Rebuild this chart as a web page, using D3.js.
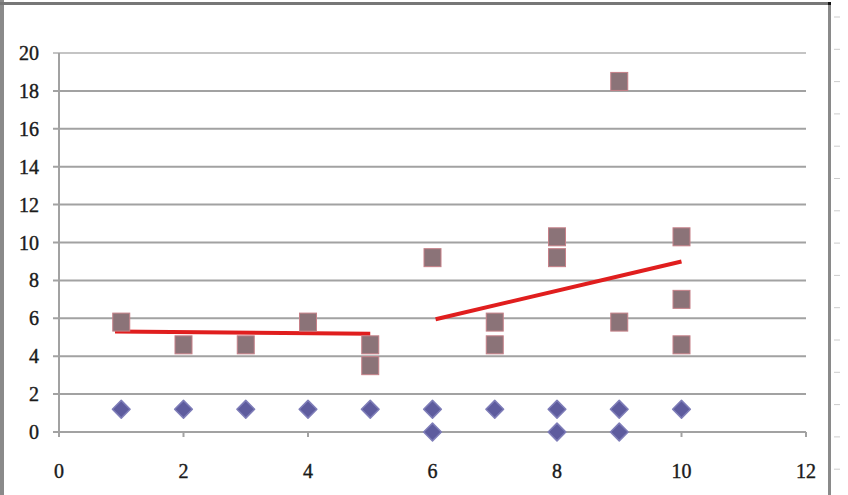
<!DOCTYPE html>
<html>
<head>
<meta charset="utf-8">
<script src="https://cdn.jsdelivr.net/npm/d3@7"></script>
<style>
  body { margin: 0; background: #fff; }
  svg text { font-family: "Liberation Serif", serif; fill: #1a1a1a; stroke: #1a1a1a; stroke-width: 0.4; }
</style>
</head>
<body>
<div id="myChart"></div>
<script>
let width = 848
let height = 495

// series 1 (diamonds)
const diamondX = [1, 2, 3, 4, 5, 6, 7, 8, 9, 10, 6, 8, 9]
const diamondY = [1.2, 1.2, 1.2, 1.2, 1.2, 1.2, 1.2, 1.2, 1.2, 1.2, 0, 0, 0]

// series 2 (squares)
const squareX = [1, 2, 3, 4, 5, 5, 6, 7, 7, 8, 8, 9, 9, 10, 10, 10]
const squareY = [5.8, 4.6, 4.6, 5.8, 4.6, 3.5, 9.2, 5.8, 4.6, 10.3, 9.2, 18.5, 5.8, 10.3, 7.0, 4.6]

// trend lines (start / end)
const trend1X = [0.9, 5]
const trend1Y = [5.3, 5.18]
const trend2X = [6.05, 10]
const trend2Y = [5.95, 9.0]

const xTicks = [0, 2, 4, 6, 8, 10, 12]
const yTicks = [0, 2, 4, 6, 8, 10, 12, 14, 16, 18, 20]

let svg = d3.select("#myChart")
  .append("svg")
  .attr("width", width)
  .attr("height", height)

let x = d3.scaleLinear().domain([0, 12]).range([59, 806])
let y = d3.scaleLinear().domain([0, 20]).range([432, 53])

// outer frame (screenshot border)
svg.append("rect").attr("x", 0).attr("y", 0).attr("width", 4).attr("height", height).attr("fill", "#8a8a8a")
svg.append("rect").attr("x", 0).attr("y", 2).attr("width", 831).attr("height", 3).attr("fill", "#777")
svg.append("rect").attr("x", 828).attr("y", 2).attr("width", 3).attr("height", height).attr("fill", "#8a8a8a")
svg.append("rect").attr("x", 828).attr("y", 2).attr("width", 3).attr("height", 3).attr("fill", "#111")

// faint row markers at the right edge
svg.append("g")
  .selectAll("line")
  .data(d3.range(17, height, 32.3))
  .enter().append("line")
  .attr("x1", 834).attr("x2", 840)
  .attr("y1", d => d).attr("y2", d => d)
  .attr("stroke", "#ccc")
  .attr("stroke-width", 1)

// gridlines
svg.append("g")
  .selectAll("line")
  .data(yTicks)
  .enter().append("line")
  .attr("x1", 53)
  .attr("x2", 806)
  .attr("y1", d => y(d))
  .attr("y2", d => y(d))
  .attr("stroke", d => d == 20 ? "#c4c4c4" : "#a2a2a2")
  .attr("stroke-width", 2)

// y axis line
svg.append("line")
  .attr("x1", x(0)).attr("x2", x(0))
  .attr("y1", y(20)).attr("y2", y(0) + 5)
  .attr("stroke", "#a2a2a2")
  .attr("stroke-width", 2)

// x ticks
svg.append("g")
  .selectAll("line")
  .data(xTicks.slice(1))
  .enter().append("line")
  .attr("x1", d => x(d)).attr("x2", d => x(d))
  .attr("y1", y(0)).attr("y2", y(0) + 5)
  .attr("stroke", "#a2a2a2")
  .attr("stroke-width", 2)

// tick labels
svg.append("g")
  .selectAll("text")
  .data(yTicks)
  .enter().append("text")
  .attr("x", 39)
  .attr("y", d => y(d) + 7)
  .attr("text-anchor", "end")
  .style("font-size", "20px")
  .text(d => d)

svg.append("g")
  .selectAll("text")
  .data(xTicks)
  .enter().append("text")
  .attr("x", d => x(d))
  .attr("y", 478)
  .attr("text-anchor", "middle")
  .style("font-size", "20px")
  .text(d => d)

// trend lines
let line = d3.line().x(d => x(d[0])).y(d => y(d[1]))
;[[trend1X, trend1Y], [trend2X, trend2Y]].forEach(t => {
  svg.append("path")
    .attr("d", line(t[0].map((v, i) => [v, t[1][i]])))
    .attr("fill", "none")
    .attr("stroke", "#e01e1e")
    .attr("stroke-width", 4)
})

// squares
svg.append("g")
  .selectAll("rect")
  .data(squareX.map((v, i) => [v, squareY[i]]))
  .enter().append("rect")
  .attr("x", d => x(d[0]) - 8.5)
  .attr("y", d => y(d[1]) - 9)
  .attr("width", 17)
  .attr("height", 18)
  .attr("fill", "#8b7378")
  .attr("stroke", "#c68088")
  .attr("stroke-width", 1)

// diamonds
let diamond = d3.symbol().type(d3.symbolDiamond2).size(200)
svg.append("g")
  .selectAll("path")
  .data(diamondX.map((v, i) => [v, diamondY[i]]))
  .enter().append("path")
  .attr("d", diamond)
  .attr("transform", d => `translate(${x(d[0])},${y(d[1])})`)
  .attr("fill", "#5e5c9e")
  .attr("stroke", "#7e7db8")
  .attr("stroke-width", 1.5)
  .attr("stroke-linejoin", "round")
</script>
</body>
</html>
